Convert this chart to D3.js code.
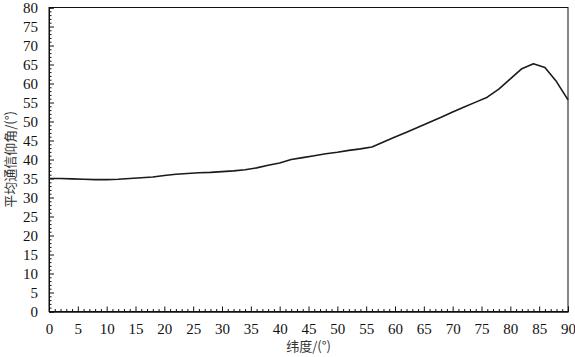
<!DOCTYPE html>
<html><head><meta charset="utf-8">
<script src="https://cdn.jsdelivr.net/npm/d3@7"></script>
<style>body{margin:0;background:#fff}svg{display:block}</style>
</head><body><svg id="c" width="575" height="357"></svg>
<script>
const latitude = [0,2,4,6,8,10,12,14,16,18,20,22,24,26,28,30,32,34,36,38,40,42,44,46,48,50,52,54,56,58,60,62,64,66,68,70,72,74,76,78,80,82,84,86,88,90];
const elevation = [35.0,35.0,34.9,34.8,34.7,34.7,34.8,35.0,35.2,35.4,35.8,36.1,36.3,36.5,36.6,36.8,37.0,37.3,37.8,38.5,39.1,40.0,40.5,41.0,41.5,41.9,42.4,42.8,43.3,44.6,45.9,47.2,48.5,49.8,51.1,52.5,53.8,55.1,56.4,58.5,61.2,63.9,65.2,64.2,60.5,55.7];
const xTicks = d3.range(0, 91, 5);
const yTicks = d3.range(0, 81, 5);
const xTitle = "纬度/(°)";
const yTitle = "平均通信仰角/(°)";

const svg = d3.select("#c");
const L = 49, R = 568, T = 7.5, B = 311.5;
const x = d3.scaleLinear().domain([0, 90]).range([L, R]);
const y = d3.scaleLinear().domain([0, 80]).range([B, T]);
const tickFont = "'Liberation Serif','Times New Roman',serif";

// frame
svg.append("rect").attr("x", L).attr("y", T).attr("width", R - L).attr("height", B - T)
  .attr("fill", "none").attr("stroke", "#111").attr("stroke-width", 1);

// x axis
const gx = svg.append("g").attr("transform", `translate(0,${B})`)
  .call(d3.axisBottom(x).tickValues(xTicks).tickSize(-5).tickPadding(12).tickFormat(d3.format("d")));
gx.append("g").call(d3.axisBottom(x).tickValues(d3.range(0, 91, 1).filter(v => v % 5)).tickSize(-2.5).tickFormat(""));
// y axis
const gy = svg.append("g").attr("transform", `translate(${L},0)`)
  .call(d3.axisLeft(y).tickValues(yTicks).tickSize(-5).tickPadding(11).tickFormat(d3.format("d")));
gy.append("g").call(d3.axisLeft(y).tickValues(d3.range(0, 81, 1).filter(v => v % 5)).tickSize(-2.5).tickFormat(""));

svg.selectAll(".domain").attr("stroke", "#111");
svg.selectAll(".tick line").attr("stroke", "#111");
svg.selectAll(".tick text").attr("font-family", tickFont).attr("font-size", 15).attr("fill", "#111");

// line
svg.append("path").datum(latitude.map((d, i) => [d, elevation[i]]))
  .attr("fill", "none").attr("stroke", "#1a1a1a").attr("stroke-width", 1.6)
  .attr("stroke-linejoin", "round")
  .attr("d", d3.line().x(d => x(d[0])).y(d => y(d[1])));

// titles
svg.append("text").attr("x", (L + R) / 2).attr("y", 351).attr("text-anchor", "middle")
  .attr("font-family", "'Noto Sans CJK SC',sans-serif").attr("font-size", 13).attr("fill", "#333")
  .text(xTitle);
svg.append("text").attr("transform", `translate(15,${(T + B) / 2}) rotate(-90)`).attr("text-anchor", "middle")
  .attr("font-family", "'Noto Sans CJK SC',sans-serif").attr("font-size", 13).attr("fill", "#333")
  .text(yTitle);
</script></body></html>
